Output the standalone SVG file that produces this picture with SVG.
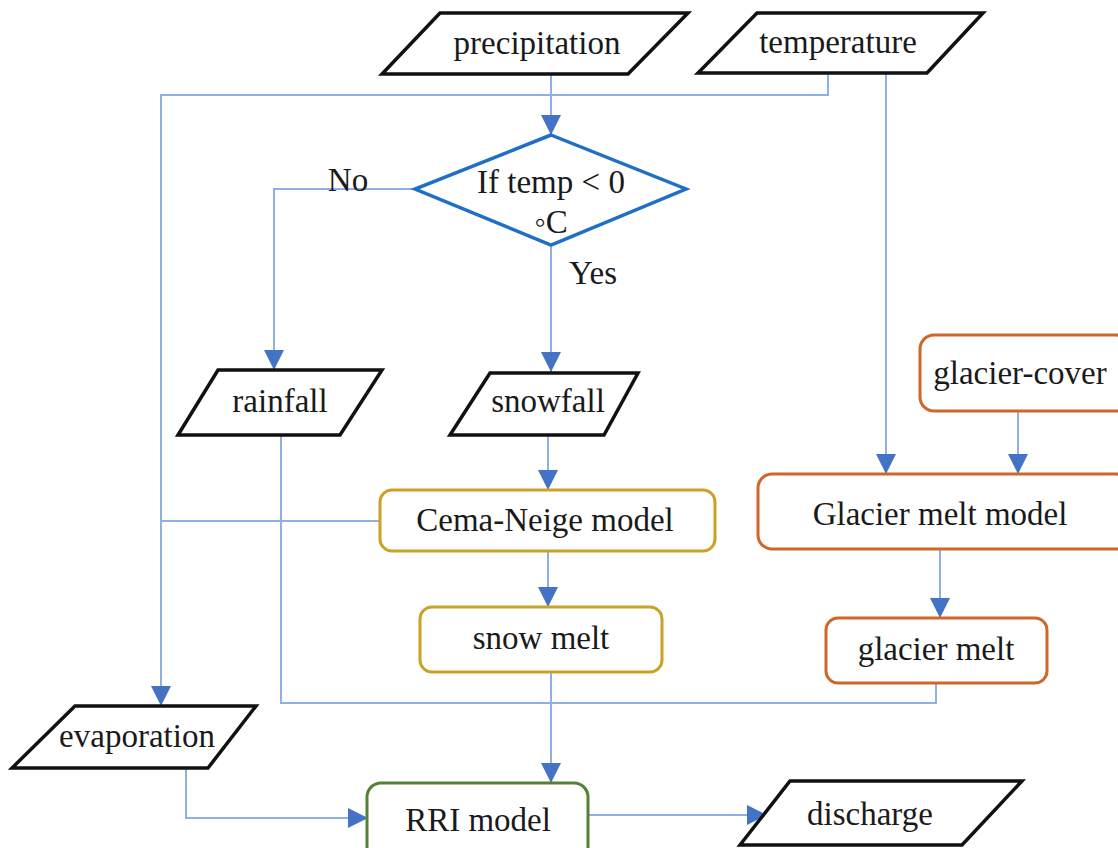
<svg xmlns="http://www.w3.org/2000/svg" width="1118" height="848" viewBox="0 0 1118 848">
<style>
text{font-family:"Liberation Serif","Times New Roman",serif;font-size:33px;fill:#1a1a1a;text-anchor:middle;dominant-baseline:central}
.io{fill:#fff;stroke:#111;stroke-width:3.5;stroke-linejoin:miter}
.dec{fill:#fff;stroke:#1f6fc5;stroke-width:3.5}
.cema{fill:#fff;stroke:#c9a227;stroke-width:3}
.gl{fill:#fff;stroke:#d0662a;stroke-width:3}
.rri{fill:#fff;stroke:#548235;stroke-width:3}
.c{fill:none;stroke:#8fb0e6;stroke-width:2}
</style>
<defs>
<marker id="a" viewBox="0 0 20 20" refX="20" refY="10" markerWidth="20" markerHeight="20" orient="auto" markerUnits="userSpaceOnUse">
<path d="M0,0 L20,10 L0,20 Z" fill="#4472c4"/>
</marker>
</defs>
<g id="connectors">
<path class="c" d="M551,74 V135" marker-end="url(#a)"/>
<path class="c" d="M828,73 V95 H161 V706" marker-end="url(#a)"/>
<path class="c" d="M886,73 V474" marker-end="url(#a)"/>
<path class="c" d="M415,189 H274 V370" marker-end="url(#a)"/>
<path class="c" d="M551,247 V372" marker-end="url(#a)"/>
<path class="c" d="M548,435 V490" marker-end="url(#a)"/>
<path class="c" d="M380,521 H161"/>
<path class="c" d="M548,551 V607" marker-end="url(#a)"/>
<path class="c" d="M1018,411 V474" marker-end="url(#a)"/>
<path class="c" d="M940,549 V618" marker-end="url(#a)"/>
<path class="c" d="M281,435 V703 H936 V683"/>
<path class="c" d="M551,672 V783" marker-end="url(#a)"/>
<path class="c" d="M186,768 V818 H368" marker-end="url(#a)"/>
<path class="c" d="M588,815 H767" marker-end="url(#a)"/>
</g>
<g id="precipitation">
<polygon class="io" points="440,13 688,13 628,74 382,74"/>
<text x="537" y="43">precipitation</text>
</g>
<g id="temperature">
<polygon class="io" points="757,13 983,13 927,73 698,73"/>
<text x="838" y="42">temperature</text>
</g>
<g id="decision">
<polygon class="dec" points="551,135 686,189 551,245 415,189"/>
<text x="551" y="182">If temp &lt; 0</text>
<text x="551" y="222">◦C</text>
</g>
<text x="348" y="180">No</text>
<text x="593" y="273">Yes</text>
<g id="rainfall">
<polygon class="io" points="218,370 382,370 340,435 178,435"/>
<text x="280" y="401">rainfall</text>
</g>
<g id="snowfall">
<polygon class="io" points="490,373 638,373 604,435 450,435"/>
<text x="548" y="401">snowfall</text>
</g>
<g id="cema">
<rect class="cema" x="380" y="490" width="335" height="61" rx="12"/>
<text x="545" y="520">Cema-Neige model</text>
</g>
<g id="snowmelt">
<rect class="cema" x="420" y="607" width="242" height="65" rx="12"/>
<text x="541" y="638">snow melt</text>
</g>
<g id="glaciercover">
<rect class="gl" x="920" y="335" width="210" height="76" rx="14"/>
<text x="1020" y="373">glacier-cover</text>
</g>
<g id="glaciermodel">
<rect class="gl" x="758" y="474" width="372" height="75" rx="14"/>
<text x="940" y="514">Glacier melt model</text>
</g>
<g id="glaciermelt">
<rect class="gl" x="826" y="618" width="221" height="65" rx="12"/>
<text x="936" y="649">glacier melt</text>
</g>
<g id="evaporation">
<polygon class="io" points="75,706 256,706 208,768 12,768"/>
<text x="137" y="736">evaporation</text>
</g>
<g id="rri">
<rect class="rri" x="367" y="783" width="221" height="80" rx="14"/>
<text x="478" y="820">RRI model</text>
</g>
<g id="discharge">
<polygon class="io" points="790,781 1022,781 962,845 740,845"/>
<text x="870" y="814">discharge</text>
</g>
</svg>
